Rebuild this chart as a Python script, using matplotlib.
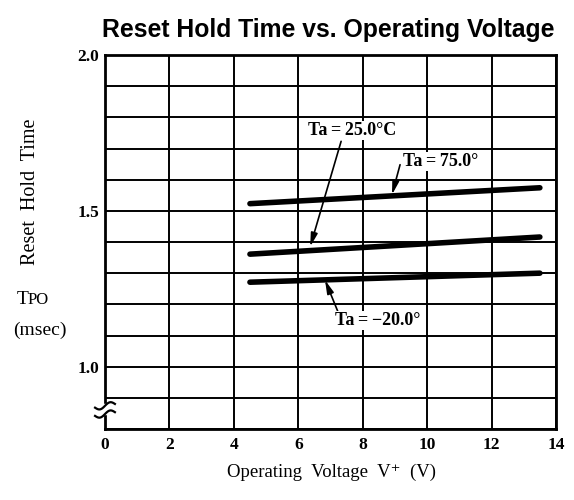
import matplotlib
matplotlib.use("Agg")
import matplotlib.pyplot as plt
import numpy as np

# Data
voltage = [4.5, 13.5]
ta_75 = [1.523, 1.574]
ta_25 = [1.361, 1.416]
ta_m20 = [1.271, 1.300]
x_ticks = [0, 2, 4, 6, 8, 10, 12, 14]
y_major_labels = {2.0: "2.0", 1.5: "1.5", 1.0: "1.0"}

serif = "Liberation Serif"
serif_list = ["Liberation Serif", "DejaVu Serif"]

fig = plt.figure(figsize=(5.74, 5.0), dpi=100)
ax = fig.add_axes([0.1829, 0.142, 0.9686 - 0.1829, 0.89 - 0.142])

ax.set_xlim(0, 14)
ax.set_ylim(0.8, 2.0)

# grid
yt = np.round(np.arange(0.8, 2.0001, 0.1), 1)
ax.set_yticks(yt)
ax.set_yticklabels([y_major_labels.get(float(v), "") for v in yt],
                   fontfamily=serif, fontweight="bold", fontsize=12.5)
ax.set_xticks(x_ticks)
ax.set_xticklabels([str(v) for v in x_ticks], fontfamily=serif,
                   fontweight="bold", fontsize=12.5)
ax.tick_params(axis="y", length=0, pad=4)
ax.tick_params(axis="x", length=0, pad=6)
ax.grid(True, color="black", linewidth=1.4)
ax.set_axisbelow(True)
for s in ax.spines.values():
    s.set_linewidth(2.0)

# curves
for ys in (ta_75, ta_25, ta_m20):
    ax.plot(voltage, ys, color="black", linewidth=4, solid_capstyle="round", zorder=3)

arrow = dict(arrowstyle="-|>,head_length=0.8,head_width=0.2", color="black",
             lw=1.2, shrinkA=0, shrinkB=0)
txt = dict(fontfamily=serif, fontweight="bold", fontsize=13, va="center", ha="left",
           zorder=6, bbox=dict(facecolor="white", edgecolor="none", pad=0.5))

ax.annotate("", xy=(6.37, 1.385), xytext=(7.33, 1.723), arrowprops=arrow, zorder=4)
ax.text(6.3, 1.758, "Ta\u2009=\u200925.0°C", **txt)
ax.annotate("", xy=(8.91, 1.552), xytext=(9.16, 1.648), arrowprops=arrow, zorder=4)
ax.text(9.25, 1.658, "Ta\u2009=\u200975.0°", **txt)
ax.annotate("", xy=(6.83, 1.278), xytext=(7.24, 1.174), arrowprops=arrow, zorder=4)
ax.text(7.14, 1.148, "Ta\u2009=\u2009\u221220.0°", **txt)

# axis break symbol
ax.fill_between([-0.008, 0.008], 0.040, 0.068, color="white",
                transform=ax.transAxes, clip_on=False, zorder=4)
t = np.linspace(-1, 1, 40)
for off in (0.0, 0.022):
    xs = t * 0.022
    ys = 0.040 + off + 0.007 * np.sin(t * np.pi) + t * 0.005
    ax.plot(xs, ys, color="black", lw=1.6, transform=ax.transAxes, clip_on=False, zorder=5)

# titles and labels
fig.text(0.572, 0.94, "Reset Hold Time vs. Operating Voltage", ha="center", va="center",
         fontfamily="Liberation Sans", fontweight="bold", fontsize=17.8)
fig.text(0.053, 0.616, "Reset  Hold  Time", rotation=90, ha="center", va="center",
         fontfamily=serif, fontsize=14.5)
fig.text(0.0295, 0.393, "T", ha="left", va="baseline", fontfamily=serif, fontsize=14)
fig.text(0.0485, 0.393, "PO", ha="left", va="baseline", fontfamily=serif, fontsize=12)
fig.text(0.070, 0.34, "(msec)", ha="center", va="center",
         fontfamily=serif, fontsize=14)
fig.text(0.578, 0.056, "Operating  Voltage  V\u207a  (V)", ha="center", va="center",
         fontfamily=serif_list, fontsize=13.5)

fig.savefig("out.png", dpi=100)
